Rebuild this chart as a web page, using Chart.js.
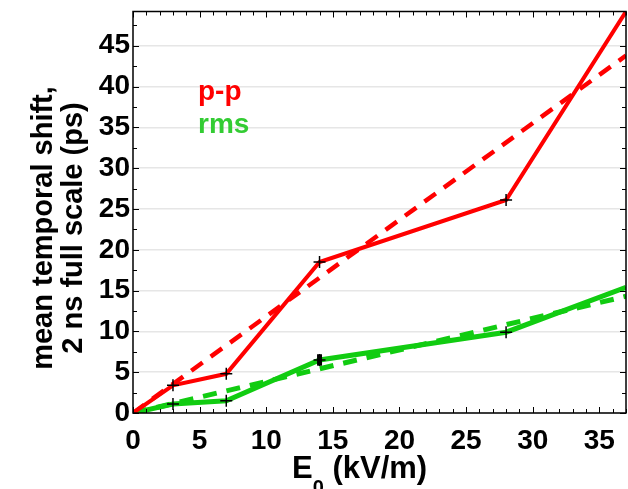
<!DOCTYPE html>
<html lang="en">
<head>
<meta charset="UTF-8">
<title>Mean temporal shift vs field</title>
<style>
  body { margin: 0; background: #fff; }
  canvas { display: block; }
</style>
</head>
<body>
<canvas id="shiftChart" width="628" height="489"></canvas>

<script src="https://cdn.jsdelivr.net/npm/chart.js"></script>
<script>
    // field strength E0 (kV/m) and measured mean shift (ps)
    const fieldKVm = [0, 3, 7, 14, 28, 37];
    const ppShift = [0, 3.4, 4.8, 18.5, 26.1, 49.2];
    const rmsShift = [0, 1.1, 1.5, 6.5, 9.9, 15.4];
    const rmsErr = [0, 0, 0, 0.7, 0, 0];

    // straight-line fits
    const fitField = [0, 37];
    const ppFit = [0, 43.8];
    const rmsFit = [0, 14.3];

    const xTickValues = [0, 5, 10, 15, 20, 25, 30, 35];
    const yTickValues = [0, 5, 10, 15, 20, 25, 30, 35, 40, 45];

    const RED = '#ff0000';
    const GREEN = '#11cc11';
    const FONT = '"Liberation Sans", Arial, sans-serif';

    const toPoints = (xs, ys) => xs.map((x, i) => ({ x: x, y: ys[i] }));

    // crosses on the measured points, but not on the end points
    const crossRadius = (ctx) => {
        const last = ctx.dataset.data.length - 1;
        return (ctx.dataIndex === 0 || ctx.dataIndex === last) ? 0 : 6;
    };

    // frame, inward ticks, error bar, legend text and axis titles
    const decorations = {
        id: 'decorations',
        afterDatasetsDraw(chart) {
            const { ctx, chartArea: a, scales: { x, y } } = chart;
            ctx.save();

            // error bars on the rms series
            ctx.strokeStyle = '#000';
            ctx.lineWidth = 5;
            rmsErr.forEach((err, i) => {
                if (!err) return;
                const px = x.getPixelForValue(fieldKVm[i]);
                ctx.beginPath();
                ctx.moveTo(px, y.getPixelForValue(rmsShift[i] - err));
                ctx.lineTo(px, y.getPixelForValue(rmsShift[i] + err));
                ctx.stroke();
            });

            // box
            ctx.lineWidth = 1.5;
            ctx.strokeRect(a.left, a.top, a.right - a.left, a.bottom - a.top);

            // ticks pointing into the plot on all four sides
            ctx.lineWidth = 1;
            ctx.beginPath();
            for (let v = 0; v <= x.max; v += 1) {
                const px = Math.round(x.getPixelForValue(v)) + 0.5;
                const len = v % 5 === 0 ? 6 : 4;
                ctx.moveTo(px, a.bottom); ctx.lineTo(px, a.bottom - len);
                ctx.moveTo(px, a.top); ctx.lineTo(px, a.top + len);
            }
            for (let v = 0; v <= y.max; v += 2.5) {
                const py = Math.round(y.getPixelForValue(v)) + 0.5;
                const len = v % 5 === 0 ? 6 : 4;
                ctx.moveTo(a.left, py); ctx.lineTo(a.left + len, py);
                ctx.moveTo(a.right, py); ctx.lineTo(a.right - len, py);
            }
            ctx.stroke();

            // series labels
            ctx.font = 'bold 28px ' + FONT;
            ctx.textAlign = 'left';
            ctx.textBaseline = 'alphabetic';
            ctx.fillStyle = RED;
            ctx.fillText('p-p', 198, 100);
            ctx.fillStyle = '#33cc33';
            ctx.fillText('rms', 198, 133);

            // x title with subscript
            ctx.fillStyle = '#000';
            ctx.font = 'bold 31px ' + FONT;
            ctx.fillText('E', 292, 478);
            const eW = ctx.measureText('E').width;
            ctx.font = 'bold 20px ' + FONT;
            ctx.fillText('0', 292 + eW, 494);
            const zW = ctx.measureText('0').width;
            ctx.font = 'bold 31px ' + FONT;
            ctx.fillText(' (kV/m)', 292 + eW + zW, 478);

            // y title, two lines
            ctx.textAlign = 'center';
            ctx.font = 'bold 29px ' + FONT;
            [['mean temporal shift,', 52], ['2 ns full scale (ps)', 82]].forEach(([txt, bx]) => {
                ctx.save();
                ctx.translate(bx, 228);
                ctx.rotate(-Math.PI / 2);
                ctx.fillText(txt, 0, 0);
                ctx.restore();
            });

            ctx.restore();
        }
    };

    new Chart(document.getElementById('shiftChart'), {
        type: 'line',
        data: {
            datasets: [
                {
                    label: 'p-p',
                    data: toPoints(fieldKVm, ppShift),
                    borderColor: RED,
                    borderWidth: 4,
                    pointStyle: 'cross',
                    pointRadius: crossRadius,
                    pointBorderColor: '#000',
                    pointBorderWidth: 1.5,
                    order: 1
                },
                {
                    label: 'rms',
                    data: toPoints(fieldKVm, rmsShift),
                    borderColor: GREEN,
                    borderWidth: 5,
                    pointStyle: 'cross',
                    pointRadius: crossRadius,
                    pointBorderColor: '#000',
                    pointBorderWidth: 1.5,
                    order: 1
                },
                {
                    label: 'p-p fit',
                    data: toPoints(fitField, ppFit),
                    borderColor: RED,
                    borderWidth: 4.5,
                    borderDash: [14, 10],
                    pointRadius: 0,
                    order: 3
                },
                {
                    label: 'rms fit',
                    data: toPoints(fitField, rmsFit),
                    borderColor: GREEN,
                    borderWidth: 5,
                    borderDash: [14, 10],
                    pointRadius: 0,
                    order: 3
                }
            ]
        },
        options: {
            responsive: false,
            animation: false,
            layout: { padding: { top: 11.5, right: 2, left: 0, bottom: 0 } },
            plugins: {
                legend: { display: false },
                tooltip: { enabled: false }
            },
            scales: {
                x: {
                    type: 'linear',
                    min: 0,
                    max: 37,
                    afterBuildTicks: (s) => { s.ticks = xTickValues.map(v => ({ value: v })); },
                    afterFit: (s) => { s.height = 76; },
                    grid: { display: false },
                    border: { display: false },
                    ticks: {
                        color: '#000',
                        padding: 9,
                        maxRotation: 0,
                        font: { family: FONT, size: 28, weight: 'bold', lineHeight: 0.8 }
                    }
                },
                y: {
                    min: 0,
                    max: 49.2,
                    afterBuildTicks: (s) => { s.ticks = yTickValues.map(v => ({ value: v })); },
                    afterFit: (s) => { s.width = 133; s.paddingTop = 0; },
                    grid: { color: '#e6e6e6', lineWidth: 1.5, drawTicks: false },
                    border: { display: false },
                    ticks: {
                        color: '#000',
                        padding: 3,
                        font: { family: FONT, size: 28, weight: 'bold', lineHeight: 0.5 }
                    }
                }
            }
        },
        plugins: [decorations]
    });
</script>
</body>
</html>
